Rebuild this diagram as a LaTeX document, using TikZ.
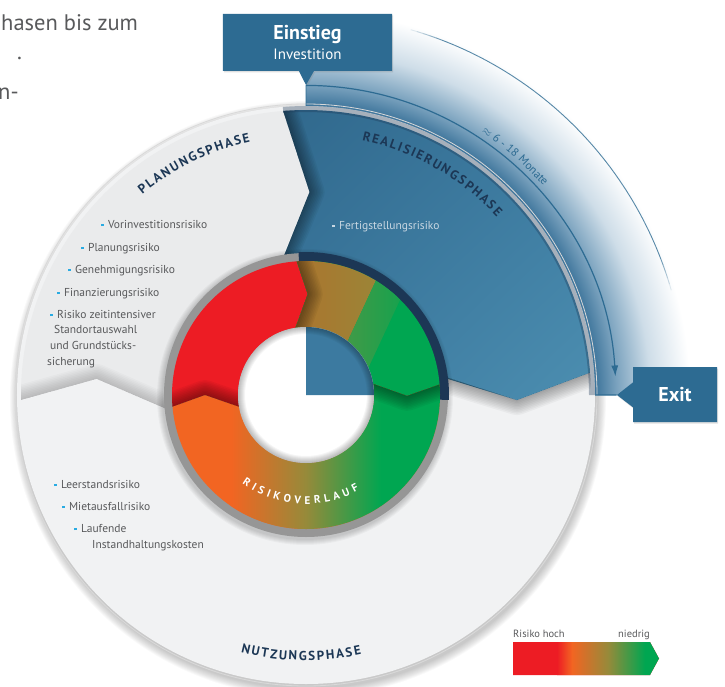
\documentclass[tikz,border=0pt]{standalone}
\usepackage{fontspec}
\setmainfont{PT Sans}
\usepackage{xcolor}
\definecolor{boxblue}{RGB}{45,107,146}
\definecolor{phasedark}{RGB}{48,104,140}
\definecolor{phasemid}{RGB}{60,122,160}
\definecolor{phaselight}{RGB}{76,142,176}
\definecolor{haloblue}{RGB}{58,114,153}
\definecolor{halomid}{RGB}{122,162,190}
\definecolor{halolight}{RGB}{206,221,232}
\definecolor{navy}{RGB}{28,55,85}
\definecolor{textgrey}{RGB}{88,89,91}
\definecolor{paletext}{RGB}{200,215,226}
\definecolor{dotblue}{RGB}{41,171,226}
\definecolor{diskgrey}{RGB}{241,242,243}
\definecolor{plangrey}{RGB}{234,235,236}
\definecolor{rimgrey}{RGB}{150,150,150}
\definecolor{ringred}{RGB}{237,28,36}
\definecolor{ringorange}{RGB}{242,101,34}
\definecolor{ringbrown}{RGB}{200,88,30}
\definecolor{ringolive}{RGB}{150,138,58}
\definecolor{ringgreen}{RGB}{0,166,81}
\usepackage{tikz}
\usetikzlibrary{arrows.meta}
\usetikzlibrary{shapes.callouts}
\usetikzlibrary{shadows}
\usetikzlibrary{shadings}

\newcommand{\riskdot}{\textcolor{dotblue}{\rule[0.2em]{2.6pt}{2.6pt}}\hspace{4.3pt}}
\newcommand{\palerdot}{\textcolor{paletext}{\rule[0.2em]{2.6pt}{2.6pt}}\hspace{4.3pt}}
\newcommand{\phasefont}{\bfseries\fontsize{13}{15}\selectfont}
\newcommand{\riskfont}{\fontsize{11.5}{13}\selectfont}
\newdimen\glyphwidth

% the three phases of the disk
\newcommand{\planpath}{(181:285) arc[start angle=181, end angle=94.6, radius=285] -- (89:203) -- (100:139) arc[start angle=100, end angle=186, radius=139] -- (175.6:210) -- cycle}
\newcommand{\realpath}{(94.6:285) arc[start angle=94.6, end angle=4.5, radius=285] -- (-1.4:211) -- (7.5:137) arc[start angle=7.5, end angle=100, radius=137] -- (89:203) -- cycle}
\newcommand{\usepath}{(4.5:285) arc[start angle=4.5, end angle=-179, radius=285] -- (-184.4:210) -- (-174:140) arc[start angle=-174, end angle=7.5, radius=140] -- (-1.4:211) -- cycle}
% the three parts of the risk ring
\newcommand{\segred}{(185:134) arc[start angle=185, end angle=94, radius=134] -- (89:101) -- (99:68) arc[start angle=99, end angle=190, radius=68] -- (180:101) -- cycle}
\newcommand{\segmid}{(94:134) arc[start angle=94, end angle=4.5, radius=134] -- (-0.5:101) -- (9.5:68) arc[start angle=9.5, end angle=99, radius=68] -- (89:101) -- cycle}
\newcommand{\seglow}{(4.5:134) arc[start angle=4.5, end angle=-175, radius=134] -- (-180:101) -- (-170:68) arc[start angle=-170, end angle=9.5, radius=68] -- (-0.5:101) -- cycle}
\newcommand{\legendpath}{(207,-247) -- (344,-247) -- (353,-263.5) -- (344,-280) -- (207,-280) -- cycle}

% soft shadow thrown by an edge onto the region behind it
\newcommand{\edgeshade}[3][0.045]{%
  \begin{scope}
    \clip #2;
    \foreach \w in {3,6,...,30}
      \draw[black, opacity=#1, line width=\w pt, line join=round] #3;
  \end{scope}}

% letters set one by one along a circle: name, font, radius, start angle, +1/-1, tracking, letters
\makeatletter
\newcommand{\bendtext}[7]{%
  \xdef\bendangle{#4}%
  \foreach \ch [count=\i] in {#7} {
    \setbox0=\hbox{#2\pgfutil@selectfont\ch}\global\glyphwidth=\wd0
    \pgfmathsetmacro{\chw}{\the\glyphwidth}
    \pgfmathsetmacro{\chpos}{\bendangle + (#5)*(\chw/2)/(#3)*180/pi}
    \node[inner sep=0pt, anchor=base, font=#2, rotate={\chpos+(#5)*90}] (#1-\i) at (\chpos:#3) {\ch};
    \pgfmathsetmacro{\chnext}{\bendangle + (#5)*(\chw+#6)/(#3)*180/pi}
    \xdef\bendangle{\chnext}
  }}
\makeatother

\pgfdeclareradialshading{halo}{\pgfpoint{0bp}{0bp}}{color(0bp)=(haloblue); color(18bp)=(haloblue); color(19.4bp)=(halomid); color(21.5bp)=(halolight); color(24bp)=(white); color(50bp)=(white)}

\tikzset{
    tagbox/.style={rectangle callout, fill=boxblue, text=white, inner sep=0pt,
        drop shadow={opacity=0.25, shadow xshift=1pt, shadow yshift=-1.5pt}},
    risk/.style={anchor=base west, inner sep=0pt, font=\riskfont, text=textgrey},
    bodytext/.style={anchor=base west, inner sep=0pt, font=\fontsize{22.5}{26}\selectfont, text=textgrey},
    legendtext/.style={inner sep=0pt, font=\fontsize{10.5}{12}\selectfont, text=textgrey}
}

\begin{document}
\begin{tikzpicture}[x=1pt, y=1pt]
    \useasboundingbox (-306,-291) rectangle (419,395);

    % running text at the left margin
    \node[bodytext] (body1) at (-305,364) {hasen bis zum};
    \node[bodytext] (body2) at (-289,335) {.};
    \node[bodytext] (body3) at (-308,295) {n-};

    % shadow of the disk and halo of the realisation quarter
    \foreach \k in {1,...,10}
        \fill[black, opacity=0.022] (2,-4) circle (289+\k*0.9);
    \begin{scope}
        \clip (0,0) -- (0,400) arc[start angle=90, end angle=0, radius=400] -- cycle;
        \shade[shading=halo] (0,0) circle (400);
    \end{scope}
    \foreach \a in {16,...,73} {
        \pgfmathsetmacro{\op}{0.8*min(1, min((\a-15)/6, (74-\a)/6))}
        \draw[boxblue, opacity=\op, line width=0.9pt] (\a:380) arc[start angle=\a, end angle=\a+1, radius=380];
    }

    % disk
    \fill[diskgrey] (0,0) circle (289);
    \fill[plangrey] \planpath;
    \fill[diskgrey] \usepath;
    \shade[upper left=phasedark, upper right=phasemid, lower left=phasemid, lower right=phaselight] \realpath;
    \edgeshade{\realpath}{(94.6:285) -- (89:203) -- (100:139)}
    \edgeshade[0.035]{\usepath}{(4.5:285) -- (-1.4:211) -- (7.5:137)}
    \edgeshade[0.018]{\planpath}{(181:285) -- (175.6:210) -- (186:140)}
    \fill[navy, opacity=0.35] (0:283) arc[start angle=0, end angle=94.6, radius=283] -- (94.6:289) arc[start angle=94.6, end angle=0, radius=289] -- cycle;
    \draw[gray!30, line width=0.8pt] (0,0) circle (291);

    % risk ring
    \foreach \k in {1,...,6}
        \fill[black, opacity=0.03] (-1,-2) circle (142+\k);
    \fill[rimgrey] (0,0) circle (142);
    \fill[navy] (0,0) -- (93:143) arc[start angle=93, end angle=-2, radius=143] -- cycle;
    \fill[ringred] \segred;
    \fill[ringgreen] \segmid;
    \begin{scope}
        \clip \segmid;
        \begin{scope}[rotate=-25]
            \shade[left color=ringbrown, right color=ringolive] (-80,-200) rectangle (15,200);
            \shade[left color=ringolive, right color=ringgreen] (15,-200) rectangle (45,200);
        \end{scope}
    \end{scope}
    \fill[ringorange] \seglow;
    \begin{scope}
        \clip \seglow;
        \shade[left color=ringorange, right color=ringolive] (-75,-200) rectangle (0,200);
        \shade[left color=ringolive, right color=ringgreen] (0,-200) rectangle (75,200);
        \fill[ringgreen] (75,-200) rectangle (200,200);
    \end{scope}
    \edgeshade{\segmid}{(94:134) -- (89:101) -- (99:68)}
    \edgeshade{\seglow}{(4.5:134) -- (-0.5:101) -- (9.5:68)}
    \edgeshade{\segred}{(185:134) -- (180:101) -- (190:68)}
    \fill[white] (0,0) circle (68);
    \fill[phasemid] (0,0) -- (68,0) arc[start angle=0, end angle=90, radius=68] -- cycle;
    \begin{scope}
        \clip (0,0) circle (68);
        \foreach \w in {2,4,...,14}
            \draw[black, opacity=0.04, line width=\w pt] (0,0) circle (68);
    \end{scope}

    % phase names
    \bendtext{plan}{\phasefont\color{navy}}{259}{129.2}{-1}{1.8}{P,L,A,N,U,N,G,S,P,H,A,S,E}
    \bendtext{real}{\phasefont\color{navy}}{261}{77.6}{-1}{1.8}{R,E,A,L,I,S,I,E,R,U,N,G,S,P,H,A,S,E}
    \bendtext{use}{\phasefont\color{navy}}{265.5}{255.8}{1}{1.8}{N,U,T,Z,U,N,G,S,P,H,A,S,E}
    \bendtext{ring}{\bfseries\fontsize{11}{13}\selectfont\color{white}}{109}{234.2}{1}{3.9}{R,I,S,I,K,O,V,E,R,L,A,U,F}
    \bendtext{span}{\fontsize{11.5}{13}\selectfont\color{boxblue}}{316}{56.3}{-1}{3.4}{$\approx$,6,-,18,Monate}

    % risks per phase
    \node[risk] (r1) at (-205,166.5) {\riskdot Vorinvestitionsrisiko};
    \node[risk] (r2) at (-225,143.5) {\riskdot Planungsrisiko};
    \node[risk] (r3) at (-238,121.5) {\riskdot Genehmigungsrisiko};
    \node[risk] (r4) at (-249,98.5) {\riskdot Finanzierungsrisiko};
    \node[risk] (r5) at (-256,76.5) {\riskdot Risiko zeitintensiver};
    \node[risk] (r5b) at (-252,62) {Standortauswahl};
    \node[risk] (r5c) at (-256,46) {und Grundstücks-};
    \node[risk] (r5d) at (-259,30) {sicherung};
    \node[risk, text=paletext] (r6) at (26,165.5) {\palerdot Fertigstellungsrisiko};
    \node[risk] (r7) at (-252,-93.5) {\riskdot Leerstandsrisiko};
    \node[risk] (r8) at (-244,-115.5) {\riskdot Mietausfallrisiko};
    \node[risk] (r9) at (-232,-137.5) {\riskdot Laufende};
    \node[risk] (r9b) at (-214,-153.5) {Instandhaltungskosten};

    % entry and exit
    \node[tagbox, minimum width=169pt, minimum height=57pt, callout absolute pointer={(0,310)}, callout pointer width=15pt,
          align=center, font=\fontsize{15}{20}\selectfont] (einstieg) at (1.5,352.5)
          {{\bfseries\fontsize{20}{20}\selectfont Einstieg}\\Investition};
    \node[tagbox, minimum width=84pt, minimum height=55pt, callout absolute pointer={(311,0)}, callout pointer width=25pt,
          font=\bfseries\fontsize{20}{22}\selectfont] (exit) at (369,0.5) {Exit};
    \draw[boxblue, line width=0.8pt] (einstieg.pointer) -- (90:289);
    \draw[boxblue, line width=1.2pt] (exit.pointer) -- (0:289);
    \draw[boxblue, line width=1.2pt, -{Latex[length=11pt, width=7pt]}] (einstieg.pointer) arc[start angle=90, end angle=3.5, radius=310];

    % legend
    \fill[ringred] \legendpath;
    \begin{scope}
        \clip \legendpath;
        \shade[left color=ringred, right color=ringorange] (251,-290) rectangle (266,-240);
        \shade[left color=ringorange, right color=ringolive] (266,-290) rectangle (302,-240);
        \shade[left color=ringolive, right color=ringgreen] (302,-290) rectangle (339,-240);
        \fill[ringgreen] (339,-290) rectangle (360,-240);
    \end{scope}
    \node[legendtext, anchor=base west] (high) at (207,-242) {Risiko hoch};
    \node[legendtext, anchor=base east] (low) at (344,-242) {niedrig};
\end{tikzpicture}
\end{document}
